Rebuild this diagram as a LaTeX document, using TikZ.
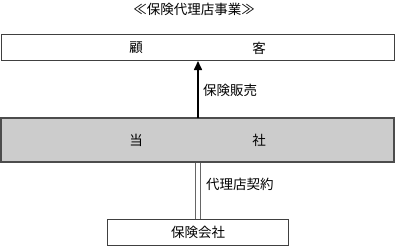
\documentclass[tikz,border=0pt]{standalone}
\usepackage{fontspec}
\setmainfont{Noto Sans CJK JP}
\usetikzlibrary{arrows.meta}
\begin{document}
\begin{tikzpicture}[x=1pt,y=-1pt,
  txt/.style={font=\fontsize{13.5}{15}\selectfont, text=black, inner sep=0pt},
  wbox/.style={draw=black!75, line width=1pt, fill=white},
  gbox/.style={draw=black!70, line width=1.2pt, fill=black!20},
  sale/.style={draw=black, line width=1.6pt, -{Triangle[length=9pt,width=8pt]}},
  contractout/.style={draw=black!60, line width=5.4pt},
  contractin/.style={draw=white, line width=3.4pt}]
\useasboundingbox (0,0) rectangle (396,246);
\node[txt] (title) at (194,9) {≪保険代理店事業≫};
\path[wbox] (1,35) rectangle (394,61);
\coordinate (custTop) at (198,61);
\node[txt] (c1) at (136,48) {顧};
\node[txt] (c2) at (259,48) {客};
\coordinate (usTop) at (198,118);
\coordinate (usBot) at (198,162);
\coordinate (insTop) at (198,219);
\draw[contractout] (usBot) -- (insTop);
\draw[contractin] (usBot) -- (insTop);
\path[gbox] (1,118) rectangle (394,162);
\node[txt] (u1) at (136,140) {当};
\node[txt] (u2) at (259,140) {社};
\path[wbox] (107,219) rectangle (288,245);
\node[txt] (ins) at (198,232) {保険会社};
\draw[sale] (usTop) -- (custTop);
\node[txt, anchor=west] (l1) at (203,90) {保険販売};
\node[txt, anchor=west] (l2) at (206,184) {代理店契約};
\end{tikzpicture}
\end{document}
